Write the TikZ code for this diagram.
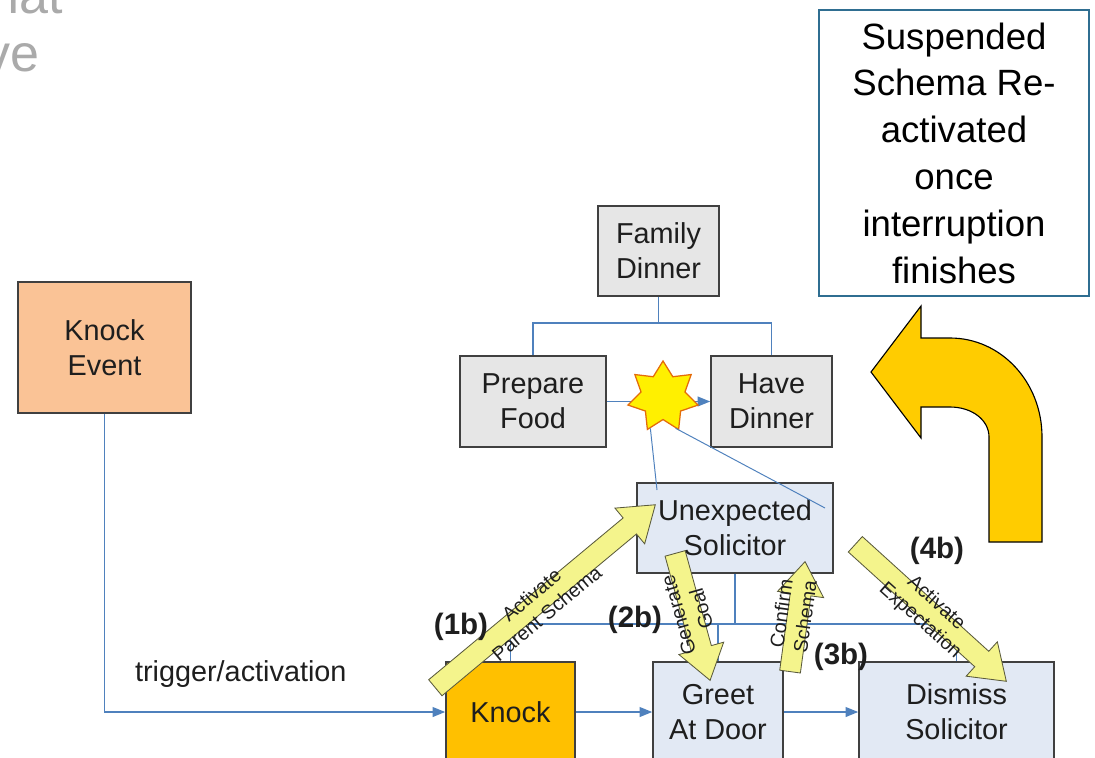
\documentclass[tikz,border=0pt]{standalone}
\usepackage{fontspec}
\setmainfont{Liberation Sans}
\usepackage{tikz}
\usetikzlibrary{arrows.meta,shapes.geometric,shapes.arrows,calc}
\definecolor{linkblue}{RGB}{79,129,189}
\definecolor{boxedge}{RGB}{64,64,64}
\definecolor{boxtext}{RGB}{30,30,30}
\definecolor{boxgrey}{RGB}{230,230,230}
\definecolor{knockevt}{RGB}{250,195,150}
\definecolor{knockgold}{RGB}{255,192,0}
\definecolor{paleblue}{RGB}{226,233,244}
\definecolor{noteedge}{RGB}{47,110,145}
\definecolor{paleyellow}{RGB}{244,244,140}
\definecolor{arrowedge}{RGB}{90,90,60}
\definecolor{bentgold}{RGB}{255,204,0}
\definecolor{burstfill}{RGB}{255,240,0}
\definecolor{burstedge}{RGB}{228,108,10}
\definecolor{ghosttext}{RGB}{170,170,170}

\newcommand\blockarrow[3]{%
  \path let \p1=($(#2)-(#1)$), \n1={veclen(\x1,\y1)} in
    (#1) -- (#2) node[yarrow,pos=0,sloped,allow upside down,anchor=tail,minimum height=\n1] (#3) {};}

\begin{document}
\begin{tikzpicture}[x=0.025cm,y=-0.025cm,
    schema/.style={draw=boxedge,line width=1.1pt,align=center,inner sep=0pt,text=boxtext,
                   font=\fontsize{20.5}{25}\selectfont},
    note/.style={draw=noteedge,line width=1.2pt,fill=white,align=center,inner sep=0pt,
                 minimum width=6.75cm,minimum height=7.15cm,font=\fontsize{26}{33.3}\selectfont},
    flow/.style={-{Triangle[length=9pt,width=7pt]},line width=1.1pt,linkblue},
    link/.style={line width=1.1pt,linkblue},
    thinlink/.style={line width=0.7pt,linkblue},
    burst/.style={star,star points=7,star point ratio=1.6,minimum size=1.8cm,inner sep=0pt,
                  fill=burstfill,draw=burstedge,line width=0.9pt},
    yarrow/.style={single arrow,draw=arrowedge,fill=paleyellow,line width=0.6pt,
                   inner xsep=0pt,inner ysep=0.25cm,single arrow head extend=0.32cm,
                   single arrow tip angle=70},
    hint/.style={font=\fontsize{14}{17}\selectfont,align=center,inner sep=0pt,text=boxtext},
    tag/.style={font=\bfseries\fontsize{21}{24}\selectfont,inner sep=0pt,text=boxtext},
    trig/.style={font=\fontsize{20.5}{25}\selectfont,inner sep=0pt,text=boxtext},
    ghost/.style={font=\fontsize{37}{40}\selectfont,inner sep=0pt,text=ghosttext}]
  \useasboundingbox (0,0) rectangle (1095,757);

  % title remnants
  \node[ghost,anchor=base east] (ghA) at (63,13) {hat};
  \node[ghost,anchor=base east] (ghB) at (40,71) {ve};

  % schema boxes
  \node[schema,fill=knockevt,minimum width=4.325cm,minimum height=3.275cm] (kev) at (104.5,347.5) {Knock\\Event};
  \node[schema,fill=boxgrey,minimum width=3.025cm,minimum height=2.25cm] (fd) at (658.5,251) {Family\\Dinner};
  \node[schema,fill=boxgrey,minimum width=3.65cm,minimum height=2.275cm] (pf) at (533,401.5) {Prepare\\Food};
  \node[schema,fill=boxgrey,minimum width=3.025cm,minimum height=2.275cm] (hd) at (771.5,401.5) {Have\\Dinner};
  \node[schema,fill=paleblue,minimum width=4.9cm,minimum height=2.25cm] (us) at (735,528) {Unexpected\\Solicitor};
  \node[schema,fill=knockgold,minimum width=3.225cm,minimum height=2.5cm] (knock) at (510.5,712) {Knock};
  \node[schema,fill=paleblue,minimum width=3.25cm,minimum height=2.5cm] (greet) at (718,712) {Greet\\At Door};
  \node[schema,fill=paleblue,minimum width=4.875cm,minimum height=2.5cm] (dismiss) at (956.5,712) {Dismiss\\Solicitor};
  \node[note] (susp) at (954,153) {Suspended\\Schema Re-\\activated\\once\\interruption\\finishes};

  % hierarchy
  \coordinate (fdj) at (658.5,323);
  \draw[link] (fd.south) -- (fdj) -| (pf.north);
  \draw[link] (fdj) -| (hd.north);
  \coordinate (usj) at (735,624);
  \draw[link] (us.south) -- (usj) -| (knock.north);
  \foreach \t in {greet,dismiss} \draw[link] (usj) -| (\t.north);

  % sequence
  \draw[flow] (kev.south) |- node[trig,pos=0.7,above=0.6cm] (trg) {trigger/activation} (knock.west);
  \foreach \sa/\sb in {knock/greet,greet/dismiss,pf/hd} \draw[flow] (\sa) -- (\sb);

  % interruption
  \node[burst] (star) at (663,397) {};
  \coordinate (usa) at (657,490);
  \coordinate (usb) at (825,508);
  \draw[thinlink] (star.248) -- (usa);
  \draw[thinlink] (star.292) -- (usb);

  % steps
  \coordinate (s1a) at (435,688);  \coordinate (s1b) at (655,505);
  \coordinate (s2a) at (675,553);  \coordinate (s2b) at (710,680);
  \coordinate (s3a) at (790,672);  \coordinate (s3b) at (805,562);
  \coordinate (s4a) at (855,544);  \coordinate (s4b) at (1006,681);
  \foreach \sa/\sb/\sn in {s1a/s1b/st1,s2a/s2b/st2,s3a/s3b/st3,s4a/s4b/st4} {\blockarrow{\sa}{\sb}{\sn}}
  \node[hint,rotate=40] (h1) at (539,604) {Activate\\Parent Schema};
  \node[hint,rotate=106] (h2) at (690,612) {Generate\\Goal};
  \node[hint,rotate=82] (h3) at (793,615) {Confirm\\Schema};
  \node[hint,rotate=-42] (h4) at (928,612) {Activate\\Expectation};
  \node[tag] (t1) at (461,627) {(1b)};
  \node[tag] (t2) at (635,620) {(2b)};
  \node[tag] (t3) at (841,657) {(3b)};
  \node[tag] (t4) at (937,551) {(4b)};

  % resume arrow
  \filldraw[fill=bentgold,draw=black,line width=0.8pt]
    (871,372) -- (921,306) -- (921,338) -- (950,338)
    .. controls (1001,338) and (1042,382) .. (1042,437)
    -- (1042,542) -- (989,542) -- (989,437)
    .. controls (989,420) and (972,407) .. (950,407)
    -- (921,407) -- (921,438) -- cycle;
\end{tikzpicture}
\end{document}
